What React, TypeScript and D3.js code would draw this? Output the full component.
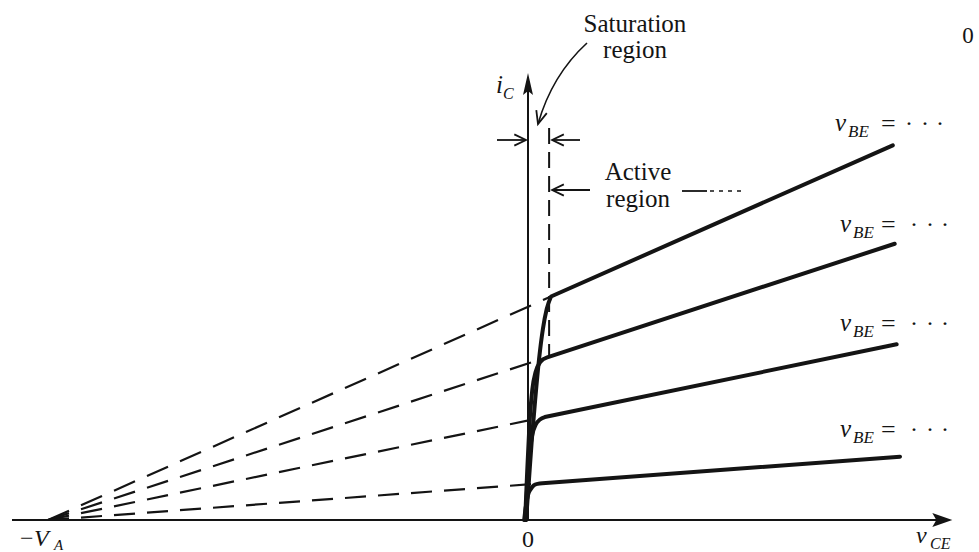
import React from 'react';
import * as d3 from 'd3';

// Early voltage (extrapolation point on the negative v_CE axis) and axis extents
const VA = 100;
const vceMax = 88.4;
const icMax = 8.9;

// i_C vs v_CE curves, one per v_BE step, [v_CE, i_C].
// Points up to the knee trace the saturation rise; the last point is the far end of the active region.
const curveTop = [[-0.4, 0], [0.2, 0.8], [0.8, 1.6], [1.5, 2.4], [2.3, 3.2], [3.1, 3.8], [3.9, 4.2], [4.8, 4.45], [76.0, 7.46]];
const curveSecond = [[-0.6, 0], [-0.2, 0.9], [0.3, 1.9], [0.9, 2.6], [1.6, 2.95], [2.6, 3.15], [4.0, 3.24], [76.4, 5.5]];
const curveThird = [[-0.6, 0], [-0.2, 0.6], [0.3, 1.3], [0.9, 1.7], [1.6, 1.9], [2.5, 2.0], [3.5, 2.05], [76.8, 3.5]];
const curveBottom = [[-0.8, 0], [-0.4, 0.3], [0, 0.5], [0.6, 0.62], [1.2, 0.69], [2.0, 0.72], [3.0, 0.73], [77.5, 1.26]];
const curves = [curveTop, curveSecond, curveThird, curveBottom];

// edge of saturation region (v_CE)
const vSatEdge = 4.4;

const x = d3.scaleLinear().domain([-VA, vceMax]).range([48, 48 + 4.8 * (VA + vceMax)]);
const y = d3.scaleLinear().domain([0, icMax]).range([520, 73]);

const ink = '#141414';

// open "V" arrow head: tip plus direction the arrow travels
function vHead(tx: number, ty: number, dx: number, dy: number, len = 14, spread = 0.42) {
  const n = Math.hypot(dx, dy);
  const bx = -dx / n, by = -dy / n;
  const rot = (a: number) => [bx * Math.cos(a) - by * Math.sin(a), bx * Math.sin(a) + by * Math.cos(a)];
  const [ax, ay] = rot(spread);
  const [cx, cy] = rot(-spread);
  return `M${tx + ax * len},${ty + ay * len}L${tx},${ty}L${tx + cx * len},${ty + cy * len}`;
}

const VbeLabel = ({ lx, by }: { lx: number; by: number }) => (
  <g fill={ink}>
    <text x={lx} y={by} fontSize={25} fontStyle="italic">v</text>
    <text x={lx + 13} y={by + 6} fontSize={17} fontStyle="italic">BE</text>
    <text x={881} y={by + 1} fontSize={26}>=</text>
    <text y={by} fontSize={24}>
      <tspan x={lx + 70}>·</tspan>
      <tspan x={lx + 86}>·</tspan>
      <tspan x={lx + 101}>·</tspan>
    </text>
  </g>
);

export default function App() {
  const rise = d3.line<number[]>()
    .x(d => x(d[0]))
    .y(d => y(d[1]))
    .curve(d3.curveMonotoneX);

  const x0 = x(0);
  const y0 = y(0);
  const xSat = x(vSatEdge);

  // saturation rise (smooth) joined to the straight active-region segment
  const curvePath = (c: number[][]) => {
    const knee = c.slice(0, c.length - 1);
    const end = c[c.length - 1];
    return `${rise(knee)}L${x(end[0])},${y(end[1])}`;
  };

  // quadratic leader from the "Saturation region" note
  const lead = { sx: 587, sy: 43, cx: 552, cy: 75, ex: 538, ey: 124 };

  return (
    <svg
      width={979}
      height={552}
      style={{ position: 'absolute', left: 0, top: 0, background: '#fff' }}
      fontFamily="'Liberation Serif', 'Times New Roman', serif"
    >
      {/* dashed Early-effect extrapolations back to -V_A */}
      {curves.map((c, i) => {
        const k = c[c.length - 2];
        const px1 = x(-VA), py1 = y(0), px2 = x(k[0]), py2 = y(k[1]);
        const f = Math.hypot(px2 - px1, py2 - py1) / (px2 - px1);
        return (
          <line
            key={'d' + i}
            x1={px1} y1={py1} x2={px2} y2={py2}
            stroke={ink}
            strokeWidth={2.2}
            strokeDasharray={`${21 * f} ${12 * f}`}
          />
        );
      })}

      {/* axes */}
      <line x1={12} y1={y0} x2={x(vceMax) - 14} y2={y0} stroke={ink} strokeWidth={2} />
      <path d={`M${x(vceMax)},${y0}L${x(vceMax) - 20},${y0 - 7}L${x(vceMax) - 16},${y0}L${x(vceMax) - 20},${y0 + 7}Z`} fill={ink} />
      <line x1={x0} y1={y0} x2={x0} y2={y(icMax) + 14} stroke={ink} strokeWidth={2} />
      <path d={`M${x0},${y(icMax)}L${x0 - 5},${y(icMax) + 22}L${x0},${y(icMax) + 18}L${x0 + 5},${y(icMax) + 22}Z`} fill={ink} />

      {/* characteristic curves */}
      {curves.map((c, i) => (
        <path key={'c' + i} d={curvePath(c)} fill="none" stroke={ink} strokeWidth={4} strokeLinejoin="round" strokeLinecap="round" />
      ))}

      {/* saturation / active boundary */}
      <line x1={xSat} y1={128} x2={xSat} y2={y(curveSecond[curveSecond.length - 2][1])} stroke={ink} strokeWidth={2} strokeDasharray="16 8" />

      {/* saturation width arrows */}
      <line x1={497} y1={140} x2={x0 - 2} y2={140} stroke={ink} strokeWidth={1.8} />
      <path d={vHead(x0 - 2, 140, 1, 0, 13, 0.45)} fill="none" stroke={ink} strokeWidth={1.8} />
      <line x1={580} y1={140} x2={xSat + 3} y2={140} stroke={ink} strokeWidth={1.8} />
      <path d={vHead(xSat + 3, 140, -1, 0, 13, 0.45)} fill="none" stroke={ink} strokeWidth={1.8} />

      {/* active region arrow */}
      <line x1={590} y1={190} x2={xSat + 3} y2={190} stroke={ink} strokeWidth={1.8} />
      <path d={vHead(xSat + 3, 190, -1, 0, 13, 0.45)} fill="none" stroke={ink} strokeWidth={1.8} />
      <line x1={682} y1={191} x2={707} y2={191} stroke={ink} strokeWidth={1.8} />
      <line x1={710} y1={191} x2={742} y2={191} stroke={ink} strokeWidth={1.6} strokeDasharray="4 5" />

      {/* saturation leader */}
      <path d={`M${lead.sx},${lead.sy}Q${lead.cx},${lead.cy} ${lead.ex},${lead.ey}`} fill="none" stroke={ink} strokeWidth={1.6} />
      <path d={vHead(lead.ex, lead.ey, lead.ex - lead.cx, lead.ey - lead.cy, 14, 0.4)} fill="none" stroke={ink} strokeWidth={1.8} />

      {/* annotations */}
      <g fill={ink} textAnchor="middle" fontSize={25}>
        <text x={635} y={32}>Saturation</text>
        <text x={635} y={58}>region</text>
        <text x={638} y={180}>Active</text>
        <text x={638} y={207}>region</text>
      </g>

      <g fill={ink}>
        <text x={496} y={93} fontSize={25} fontStyle="italic">i</text>
        <text x={503} y={99} fontSize={16} fontStyle="italic">C</text>

        <text x={20} y={546} fontSize={24}>−</text>
        <text x={34} y={546} fontSize={24} fontStyle="italic">V</text>
        <text x={54} y={550} fontSize={15} fontStyle="italic">A</text>

        <text x={x0} y={547} fontSize={24} textAnchor="middle">0</text>

        <text x={916} y={543} fontSize={24} fontStyle="italic">v</text>
        <text x={930} y={549} fontSize={16} fontStyle="italic">CE</text>

        <text x={968} y={43} fontSize={23} textAnchor="middle">0</text>
      </g>

      <VbeLabel lx={835} by={131} />
      <VbeLabel lx={840} by={232} />
      <VbeLabel lx={840} by={331} />
      <VbeLabel lx={840} by={437} />
    </svg>
  );
}
